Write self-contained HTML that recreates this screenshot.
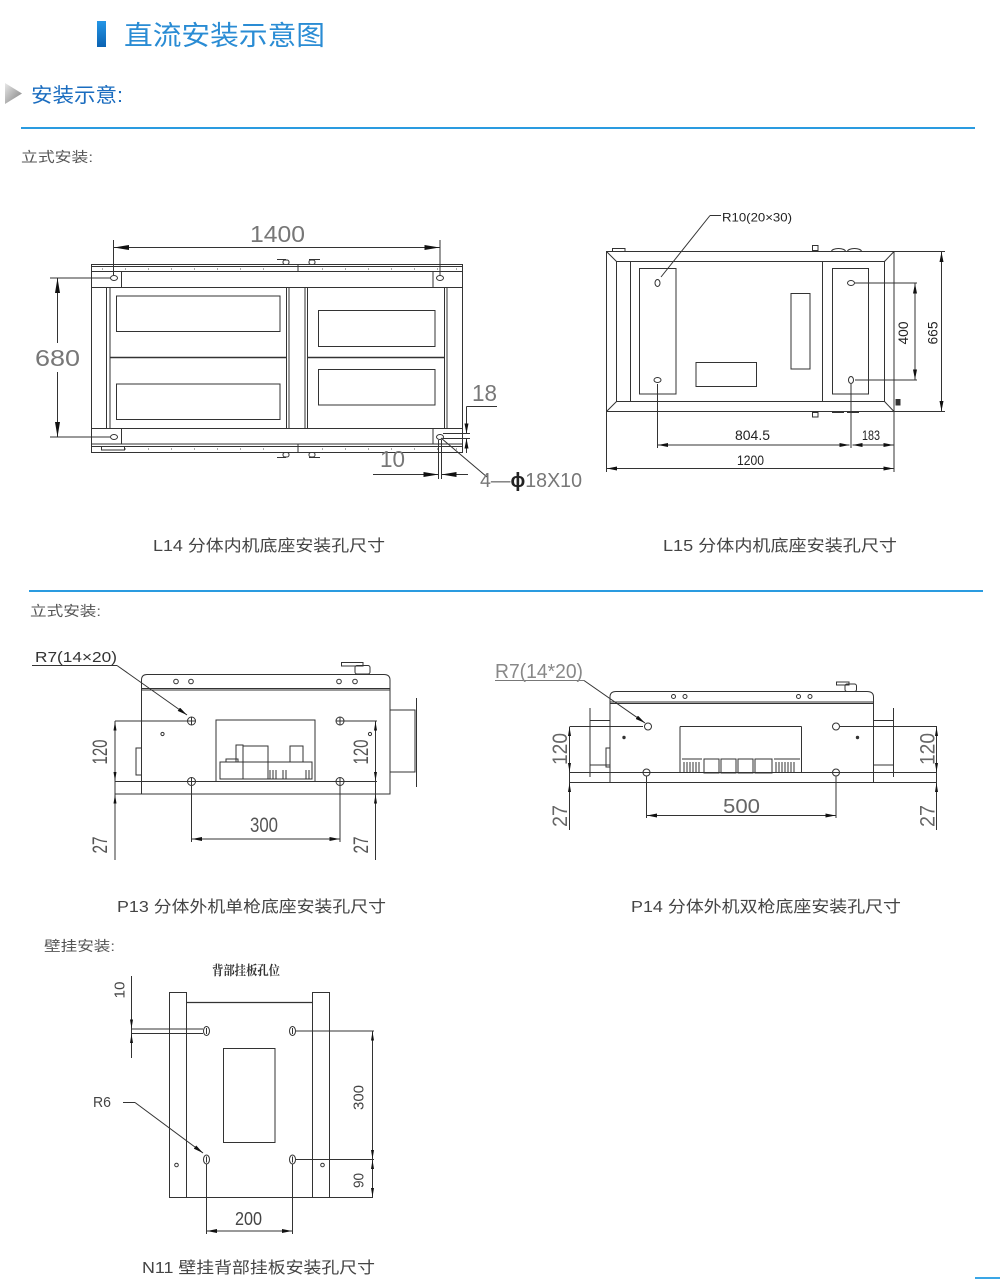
<!DOCTYPE html>
<html><head><meta charset="utf-8"><style>
html,body{margin:0;padding:0;background:#fff;}
svg{display:block;}
.t{font-family:"Liberation Sans","Noto Sans CJK SC",sans-serif;}
.d{font-family:"Liberation Sans Narrow","Liberation Sans",sans-serif;}
</style></head><body>
<svg width="1000" height="1279" viewBox="0 0 1000 1279" xmlns="http://www.w3.org/2000/svg">
<defs>
<linearGradient id="bb" x1="0" y1="0" x2="0" y2="1"><stop offset="0" stop-color="#2596e6"/><stop offset="1" stop-color="#0b62b2"/></linearGradient>
<linearGradient id="tri" x1="0" y1="0" x2="1" y2="1"><stop offset="0" stop-color="#e8e8e8"/><stop offset="1" stop-color="#7d7d7d"/></linearGradient>
<marker id="aL" viewBox="0 0 15 5" refX="15" refY="2.5" markerWidth="15" markerHeight="5" markerUnits="userSpaceOnUse" orient="auto-start-reverse"><path d="M0,0L15,2.5L0,5z" fill="#111"/></marker>
<marker id="a" viewBox="0 0 10 4" refX="10" refY="2" markerWidth="10" markerHeight="4" markerUnits="userSpaceOnUse" orient="auto-start-reverse"><path d="M0,0L10,2L0,4z" fill="#111"/></marker>
<marker id="as" viewBox="0 0 9 3" refX="9" refY="1.5" markerWidth="9" markerHeight="3" markerUnits="userSpaceOnUse" orient="auto-start-reverse"><path d="M0,0L9,1.5L0,3z" fill="#111"/></marker>
</defs>
<rect width="1000" height="1279" fill="#fff"/>

<!-- Header -->
<rect x="97" y="21" width="9" height="26" fill="url(#bb)"/>
<text class="t" x="124" y="45" font-size="27" fill="#2a8cd4" textLength="201" lengthAdjust="spacingAndGlyphs">直流安装示意图</text>
<polygon points="5,83 22,93.5 5,104" fill="url(#tri)"/>
<text class="t" x="31" y="102" font-size="20" fill="#1a6cbf" textLength="92" lengthAdjust="spacingAndGlyphs">安装示意:</text>
<rect x="21" y="127" width="954" height="2" fill="#2a9be0"/>
<text class="t" x="21" y="162" font-size="14" fill="#555" textLength="72" lengthAdjust="spacingAndGlyphs">立式安装:</text>

<!-- L14 drawing -->
<g fill="none" stroke="#333" stroke-width="1">
 <rect x="91.5" y="264.5" width="371" height="188"/>
 <line x1="91.5" y1="266.5" x2="462.5" y2="266.5"/>
 <line x1="91.5" y1="271.5" x2="462.5" y2="271.5"/>
 <line x1="298" y1="264.5" x2="298" y2="271.5"/>
 <line x1="91.5" y1="287.5" x2="462.5" y2="287.5"/>
 <line x1="121.5" y1="271.5" x2="121.5" y2="287.5"/>
 <line x1="433" y1="271.5" x2="433" y2="287.5"/>
 <line x1="91.5" y1="428.5" x2="462.5" y2="428.5"/>
 <line x1="121.5" y1="428.5" x2="121.5" y2="444"/>
 <line x1="433" y1="428.5" x2="433" y2="444"/>
 <line x1="91.5" y1="444" x2="462.5" y2="444"/>
 <line x1="91.5" y1="446.5" x2="462.5" y2="446.5"/>
 <line x1="298" y1="444" x2="298" y2="452.5"/>
 <rect x="101.5" y="446.5" width="23" height="3.5"/>
 <line x1="106.5" y1="287.5" x2="106.5" y2="428.5"/>
 <line x1="110" y1="287.5" x2="110" y2="428.5"/>
 <line x1="444.5" y1="287.5" x2="444.5" y2="428.5"/>
 <line x1="447" y1="287.5" x2="447" y2="428.5"/>
 <line x1="286.5" y1="287.5" x2="286.5" y2="428.5"/>
 <line x1="289" y1="287.5" x2="289" y2="428.5"/>
 <line x1="305" y1="287.5" x2="305" y2="428.5"/>
 <line x1="307.5" y1="287.5" x2="307.5" y2="428.5"/>
 <line x1="110" y1="357.5" x2="286.5" y2="357.5" stroke-width="1.5"/>
 <line x1="307.5" y1="357.5" x2="444.5" y2="357.5" stroke-width="1.5"/>
 <rect x="116.5" y="296" width="163.5" height="35.5"/>
 <rect x="116.5" y="384" width="163.5" height="35.5"/>
 <rect x="318.5" y="310.5" width="116.5" height="36"/>
 <rect x="318.5" y="369.5" width="116.5" height="35.5"/>
 <path d="M277,259.5H286"/><rect x="283" y="260" width="6" height="4.5" rx="2"/>
 <path d="M309,259.5H320"/><rect x="309" y="260" width="6" height="4.5" rx="2"/>
 <path d="M277,457.5H286"/><rect x="283" y="452.5" width="6" height="4.5" rx="2"/>
 <path d="M309,457.5H320"/><rect x="309" y="452.5" width="6" height="4.5" rx="2"/>
 <ellipse cx="114" cy="278" rx="3.5" ry="2.5"/>
 <ellipse cx="440" cy="278" rx="3.5" ry="2.5"/>
 <ellipse cx="114" cy="437" rx="3.5" ry="2.5"/>
 <ellipse cx="440" cy="437" rx="3.5" ry="2.5"/>
</g>
<g fill="#555">
 <path d="M102,268.5h1v1h-1zM125,268.5h1v1h-1zM148,268.5h1v1h-1zM171,268.5h1v1h-1zM194,268.5h1v1h-1zM217,268.5h1v1h-1zM240,268.5h1v1h-1zM263,268.5h1v1h-1zM322,268.5h1v1h-1zM345,268.5h1v1h-1zM368,268.5h1v1h-1zM391,268.5h1v1h-1zM414,268.5h1v1h-1zM437,268.5h1v1h-1zM456,268.5h1v1h-1z"/>
 <path d="M125,448.5h1v1h-1zM148,448.5h1v1h-1zM171,448.5h1v1h-1zM194,448.5h1v1h-1zM217,448.5h1v1h-1zM240,448.5h1v1h-1zM263,448.5h1v1h-1zM322,448.5h1v1h-1zM345,448.5h1v1h-1zM368,448.5h1v1h-1zM391,448.5h1v1h-1zM414,448.5h1v1h-1zM437,448.5h1v1h-1zM456,448.5h1v1h-1z"/>
</g>
<g stroke="#333" stroke-width="1" fill="none">
 <line x1="113.5" y1="240" x2="113.5" y2="275"/>
 <line x1="440" y1="240" x2="440" y2="275"/>
 <line x1="114" y1="247.5" x2="439.5" y2="247.5" marker-start="url(#aL)" marker-end="url(#aL)"/>
 <line x1="50" y1="278" x2="110" y2="278"/>
 <line x1="50" y1="437" x2="110" y2="437"/>
 <line x1="57.5" y1="343" x2="57.5" y2="278" marker-end="url(#aL)"/>
 <line x1="57.5" y1="372" x2="57.5" y2="437" marker-end="url(#aL)"/>
 <line x1="443" y1="433.5" x2="470" y2="433.5"/>
 <line x1="443" y1="438.5" x2="470" y2="438.5"/>
 <line x1="466.5" y1="406.5" x2="497" y2="406.5"/>
 <line x1="466.5" y1="406.5" x2="466.5" y2="433.5" marker-end="url(#a)"/>
 <line x1="466.5" y1="453" x2="466.5" y2="438.5" marker-end="url(#a)"/>
 <line x1="438.5" y1="440" x2="438.5" y2="479"/>
 <line x1="441.5" y1="440" x2="441.5" y2="479"/>
 <line x1="373" y1="474.5" x2="438.5" y2="474.5" marker-end="url(#aL)"/>
 <line x1="468" y1="474.5" x2="441.5" y2="474.5" marker-end="url(#aL)"/>
 <line x1="441" y1="438" x2="487" y2="477"/>
</g>
<g class="d" fill="#777" font-size="23">
 <text x="250" y="242" textLength="55" lengthAdjust="spacingAndGlyphs">1400</text>
 <text x="35" y="366" textLength="45" lengthAdjust="spacingAndGlyphs">680</text>
 <text x="472" y="401" textLength="25" lengthAdjust="spacingAndGlyphs">18</text>
 <text x="380" y="467" textLength="25" lengthAdjust="spacingAndGlyphs">10</text>
 <text x="480" y="487" font-size="20" textLength="102" lengthAdjust="spacingAndGlyphs">4—<tspan font-weight="bold" fill="#222">ϕ</tspan>18X10</text>
</g>

<!-- L15 drawing -->
<g fill="none" stroke="#333" stroke-width="1">
 <rect x="606.5" y="251.5" width="287.5" height="160"/>
 <rect x="616.5" y="261.5" width="268" height="140"/>
 <line x1="606.5" y1="251.5" x2="616.5" y2="261.5"/>
 <line x1="894" y1="251.5" x2="884.5" y2="261.5"/>
 <line x1="606.5" y1="411.5" x2="616.5" y2="401.5"/>
 <line x1="894" y1="411.5" x2="884.5" y2="401.5"/>
 <line x1="630.5" y1="261.5" x2="630.5" y2="401.5"/>
 <line x1="822.5" y1="261.5" x2="822.5" y2="401.5"/>
 <rect x="639.5" y="268.5" width="36.5" height="125.5"/>
 <rect x="832.5" y="268.5" width="36" height="125.5"/>
 <rect x="696" y="362.5" width="60.5" height="24"/>
 <rect x="791" y="293.5" width="19" height="75.5"/>
 <rect x="612.5" y="248.5" width="12.5" height="3"/>
 <rect x="812.5" y="245.5" width="5.5" height="5"/>
 <path d="M831.5,251.5a7,3 0 0 1 14,0M847.5,251.5a7,3 0 0 1 14,0"/>
 <rect x="812.5" y="412.5" width="5.5" height="4.5"/>
 <path d="M832,412.5h12M847,412.5h12"/>
 <rect x="896" y="399.5" width="4" height="5.5" fill="#333"/>
 <ellipse cx="657.5" cy="283" rx="2.5" ry="3.5"/>
 <ellipse cx="657.5" cy="380" rx="3.5" ry="2.5"/>
 <ellipse cx="851" cy="283" rx="3.5" ry="2.5"/>
 <ellipse cx="851" cy="380" rx="2.5" ry="3.5"/>
 <line x1="606.5" y1="411.5" x2="606.5" y2="472"/>
 <line x1="894" y1="411.5" x2="894" y2="472"/>
 <line x1="607" y1="468.5" x2="893.5" y2="468.5" marker-start="url(#a)" marker-end="url(#a)"/>
 <line x1="657.5" y1="384" x2="657.5" y2="448"/>
 <line x1="851" y1="384" x2="851" y2="448"/>
 <line x1="658" y1="445" x2="849.5" y2="445" marker-start="url(#a)" marker-end="url(#a)"/>
 <line x1="852.5" y1="445" x2="893.5" y2="445" marker-start="url(#a)" marker-end="url(#a)"/>
 <line x1="855" y1="283" x2="917" y2="283"/>
 <line x1="855" y1="380" x2="917" y2="380"/>
 <line x1="915" y1="283.5" x2="915" y2="379.5" marker-start="url(#a)" marker-end="url(#a)"/>
 <line x1="894" y1="251.5" x2="945" y2="251.5"/>
 <line x1="894" y1="411.5" x2="945" y2="411.5"/>
 <line x1="941.5" y1="252" x2="941.5" y2="411" marker-start="url(#a)" marker-end="url(#a)"/>
 <line x1="710" y1="215.5" x2="721" y2="215.5"/>
 <line x1="710" y1="215.5" x2="661" y2="277"/>
</g>
<g class="d" fill="#222" font-size="14">
 <text x="722" y="221.5" font-size="12" textLength="70" lengthAdjust="spacingAndGlyphs">R10(20×30)</text>
 <text x="735" y="440" textLength="35" lengthAdjust="spacingAndGlyphs">804.5</text>
 <text x="862" y="440" textLength="18" lengthAdjust="spacingAndGlyphs">183</text>
 <text x="737" y="465" textLength="27" lengthAdjust="spacingAndGlyphs">1200</text>
 <text transform="translate(903,333) rotate(-90)" text-anchor="middle" dominant-baseline="central" textLength="23" lengthAdjust="spacingAndGlyphs">400</text>
 <text transform="translate(932.5,333) rotate(-90)" text-anchor="middle" dominant-baseline="central" textLength="23" lengthAdjust="spacingAndGlyphs">665</text>
</g>

<g class="t" fill="#444" font-size="16">
 <text x="153" y="551" textLength="232" lengthAdjust="spacingAndGlyphs">L14 分体内机底座安装孔尺寸</text>
 <text x="663" y="551" textLength="234" lengthAdjust="spacingAndGlyphs">L15 分体内机底座安装孔尺寸</text>
</g>
<rect x="29" y="590" width="954" height="2" fill="#2a9be0"/>
<text class="t" x="30" y="616" font-size="14" fill="#555" textLength="71" lengthAdjust="spacingAndGlyphs">立式安装:</text>

<!-- P13 drawing -->
<g fill="none" stroke="#333" stroke-width="1">
 <path d="M141.5,690V680Q141.5,674.5 147,674.5H384Q390,674.5 390,680V690"/>
 <line x1="141.5" y1="688.5" x2="390" y2="688.5"/>
 <circle cx="176" cy="681.5" r="2.3"/><circle cx="191" cy="681.5" r="2.3"/>
 <circle cx="339" cy="681.5" r="2.3"/><circle cx="355" cy="681.5" r="2.3"/>
 <path d="M341.5,662.5H363V666H341.5z"/>
 <rect x="355" y="665.5" width="15" height="8.5" rx="2"/>
 <rect x="141.5" y="690" width="248.5" height="104"/>
 <line x1="115" y1="794" x2="141.5" y2="794"/>
 <line x1="115" y1="721" x2="188" y2="721"/>
 <line x1="344" y1="721" x2="377" y2="721"/>
 <line x1="115" y1="781.5" x2="377" y2="781.5"/>
 <rect x="136" y="748" width="5.5" height="27"/>
 <path d="M216,782V720H315V782"/>
 <rect x="220" y="762" width="92" height="17"/>
 <rect x="243" y="746" width="25" height="33"/>
 <rect x="290" y="746" width="13" height="16"/>
 <rect x="236" y="745" width="7" height="17"/>
 <path d="M226,762v-3h12v3M270,770v9M273,770v9M276,770v9M283,770v9M286,770v9M306,770v9M309,770v9"/>
 <rect x="390" y="710" width="25" height="62"/>
 <line x1="416.5" y1="698" x2="416.5" y2="787"/>
 <circle cx="191.5" cy="721" r="4"/><path d="M187.5,721h8M191.5,717v8"/>
 <circle cx="340" cy="721" r="4"/><path d="M336,721h8M340,717v8"/>
 <circle cx="191.5" cy="781.5" r="4"/><path d="M187.5,781.5h8M191.5,777.5v8"/>
 <circle cx="340" cy="781.5" r="4"/><path d="M336,781.5h8M340,777.5v8"/>
 <circle cx="162.5" cy="734" r="1.6"/>
 <circle cx="370" cy="734" r="1.6"/>
 <line x1="115" y1="721" x2="115" y2="860"/>
 <line x1="375.5" y1="721" x2="375.5" y2="860"/>
 <line x1="115" y1="732" x2="115" y2="721.5" marker-end="url(#as)"/>
 <line x1="115" y1="770" x2="115" y2="781" marker-end="url(#as)"/>
 <line x1="115" y1="805" x2="115" y2="794.5" marker-end="url(#as)"/>
 <line x1="375.5" y1="732" x2="375.5" y2="721.5" marker-end="url(#as)"/>
 <line x1="375.5" y1="770" x2="375.5" y2="781" marker-end="url(#as)"/>
 <line x1="375.5" y1="805" x2="375.5" y2="794.5" marker-end="url(#as)"/>
 <line x1="191.5" y1="786" x2="191.5" y2="842"/>
 <line x1="340" y1="786" x2="340" y2="842"/>
 <line x1="192" y1="839" x2="339.5" y2="839" marker-start="url(#a)" marker-end="url(#a)"/>
 <line x1="32" y1="665.5" x2="117" y2="665.5"/>
 <line x1="117" y1="665.5" x2="187" y2="715" marker-end="url(#a)"/>
</g>
<g class="d" fill="#555" font-size="21">
 <text x="35" y="662" font-size="15" fill="#333" textLength="82" lengthAdjust="spacingAndGlyphs">R7(14×20)</text>
 <text x="250" y="832" textLength="28" lengthAdjust="spacingAndGlyphs">300</text>
 <text transform="translate(100.5,752) rotate(-90)" text-anchor="middle" dominant-baseline="central" textLength="25" lengthAdjust="spacingAndGlyphs">120</text>
 <text transform="translate(100.5,845) rotate(-90)" text-anchor="middle" dominant-baseline="central" textLength="17" lengthAdjust="spacingAndGlyphs">27</text>
 <text transform="translate(361.5,752) rotate(-90)" text-anchor="middle" dominant-baseline="central" textLength="25" lengthAdjust="spacingAndGlyphs">120</text>
 <text transform="translate(361.5,845) rotate(-90)" text-anchor="middle" dominant-baseline="central" textLength="17" lengthAdjust="spacingAndGlyphs">27</text>
</g>

<!-- P14 drawing -->
<g fill="none" stroke="#333" stroke-width="1">
 <path d="M610,703.5V697Q610,691.5 616,691.5H867Q873.5,691.5 873.5,697V703.5"/>
 <line x1="610" y1="702" x2="873.5" y2="702"/>
 <circle cx="673.5" cy="696.5" r="2"/><circle cx="685" cy="696.5" r="2"/>
 <circle cx="798.5" cy="696.5" r="2"/><circle cx="810" cy="696.5" r="2"/>
 <path d="M836.5,682H849V685H836.5z"/>
 <rect x="845" y="684" width="11.5" height="7.5" rx="2"/>
 <rect x="610" y="703.5" width="263.5" height="79"/>
 <path d="M590,708V777M590,720.5H610M590,765H610"/>
 <path d="M893.5,708V777M873.5,720.5H893.5M873.5,765H893.5"/>
 <rect x="606" y="748" width="4" height="19"/>
 <line x1="570" y1="726.5" x2="643" y2="726.5"/>
 <line x1="680" y1="726.5" x2="801.5" y2="726.5"/>
 <line x1="840" y1="726.5" x2="937" y2="726.5"/>
 <line x1="570" y1="772.5" x2="937" y2="772.5"/>
 <line x1="570" y1="782.5" x2="937" y2="782.5"/>
 <path d="M680,773V726.5M801.5,773V726.5"/>
 <rect x="704" y="759" width="15" height="14"/>
 <rect x="721" y="759" width="15" height="14"/>
 <rect x="738" y="759" width="15" height="14"/>
 <rect x="755" y="759" width="17" height="14"/>
 <path d="M682,759h20M774,759h26M684,762v10M687,762v10M690,762v10M693,762v10M696,762v10M699,762v10M776,762v10M779,762v10M782,762v10M785,762v10M788,762v10M791,762v10M794,762v10"/>
 <circle cx="648" cy="726.5" r="3.5"/>
 <circle cx="836" cy="726.5" r="3.5"/>
 <circle cx="646.5" cy="772.5" r="3.5"/>
 <circle cx="836" cy="772.5" r="3.5"/>
 <circle cx="624" cy="737.5" r="1.2" fill="#333"/>
 <circle cx="857.5" cy="737.5" r="1.2" fill="#333"/>
 <line x1="569.5" y1="726.5" x2="569.5" y2="830"/>
 <line x1="936.5" y1="726.5" x2="936.5" y2="830"/>
 <line x1="569.5" y1="738" x2="569.5" y2="727" marker-end="url(#as)"/>
 <line x1="569.5" y1="761" x2="569.5" y2="772" marker-end="url(#as)"/>
 <line x1="569.5" y1="795" x2="569.5" y2="783" marker-end="url(#as)"/>
 <line x1="936.5" y1="738" x2="936.5" y2="727" marker-end="url(#as)"/>
 <line x1="936.5" y1="761" x2="936.5" y2="772" marker-end="url(#as)"/>
 <line x1="936.5" y1="795" x2="936.5" y2="783" marker-end="url(#as)"/>
 <line x1="646.5" y1="776.5" x2="646.5" y2="818"/>
 <line x1="836" y1="776.5" x2="836" y2="818"/>
 <line x1="647" y1="815.5" x2="835.5" y2="815.5" marker-start="url(#a)" marker-end="url(#a)"/>
 <line x1="495" y1="680.5" x2="584" y2="680.5" stroke="#777"/>
 <line x1="584" y1="680.5" x2="645" y2="723" marker-end="url(#a)"/>
</g>
<g class="d" fill="#666" font-size="21">
 <text x="495" y="678" font-size="20" fill="#888" textLength="88" lengthAdjust="spacingAndGlyphs">R7(14*20)</text>
 <text x="723" y="813" font-size="20" textLength="37" lengthAdjust="spacingAndGlyphs">500</text>
 <text transform="translate(560.5,749) rotate(-90)" text-anchor="middle" dominant-baseline="central" textLength="32" lengthAdjust="spacingAndGlyphs">120</text>
 <text transform="translate(560.5,816) rotate(-90)" text-anchor="middle" dominant-baseline="central" textLength="22" lengthAdjust="spacingAndGlyphs">27</text>
 <text transform="translate(928,749) rotate(-90)" text-anchor="middle" dominant-baseline="central" textLength="32" lengthAdjust="spacingAndGlyphs">120</text>
 <text transform="translate(928,816) rotate(-90)" text-anchor="middle" dominant-baseline="central" textLength="22" lengthAdjust="spacingAndGlyphs">27</text>
</g>

<g class="t" fill="#444" font-size="16">
 <text x="117" y="912" textLength="269" lengthAdjust="spacingAndGlyphs">P13 分体外机单枪底座安装孔尺寸</text>
 <text x="631" y="912" textLength="270" lengthAdjust="spacingAndGlyphs">P14 分体外机双枪底座安装孔尺寸</text>
</g>
<text class="t" x="44" y="951" font-size="14" fill="#555" textLength="71" lengthAdjust="spacingAndGlyphs">壁挂安装:</text>

<!-- N11 drawing -->
<text x="246" y="975" text-anchor="middle" font-family="'Noto Serif CJK SC','Noto Sans CJK SC',serif" font-weight="bold" font-size="13" fill="#333" textLength="68" lengthAdjust="spacingAndGlyphs">背部挂板孔位</text>
<g fill="none" stroke="#333" stroke-width="1">
 <rect x="169.5" y="992.5" width="17" height="205"/>
 <rect x="312.5" y="992.5" width="17" height="205"/>
 <line x1="186.5" y1="1002.5" x2="312.5" y2="1002.5" stroke-width="1.3"/>
 <line x1="186.5" y1="1197.5" x2="373" y2="1197.5"/>
 <rect x="223.5" y="1048.5" width="51.5" height="94"/>
 <ellipse cx="206.5" cy="1031" rx="3" ry="4.5"/><line x1="206.5" y1="1028" x2="206.5" y2="1034"/>
 <ellipse cx="292.5" cy="1031" rx="3" ry="4.5"/><line x1="292.5" y1="1028" x2="292.5" y2="1034"/>
 <ellipse cx="206.5" cy="1159.5" rx="3" ry="4.5"/><line x1="206.5" y1="1156.5" x2="206.5" y2="1162.5"/>
 <ellipse cx="292.5" cy="1159.5" rx="3" ry="4.5"/><line x1="292.5" y1="1156.5" x2="292.5" y2="1162.5"/>
 <circle cx="176.5" cy="1165" r="1.8"/>
 <circle cx="322.5" cy="1165" r="1.8"/>
 <line x1="131.5" y1="976" x2="131.5" y2="1058"/>
 <line x1="131.5" y1="1029" x2="203" y2="1029"/>
 <line x1="131.5" y1="1033.5" x2="203" y2="1033.5"/>
 <line x1="131.5" y1="1017" x2="131.5" y2="1028.5" marker-end="url(#as)"/>
 <line x1="131.5" y1="1046" x2="131.5" y2="1034" marker-end="url(#as)"/>
 <line x1="296" y1="1031" x2="374" y2="1031"/>
 <line x1="296" y1="1159.5" x2="374" y2="1159.5"/>
 <line x1="372.5" y1="1031" x2="372.5" y2="1197.5"/>
 <line x1="372.5" y1="1045" x2="372.5" y2="1031.5" marker-end="url(#as)"/>
 <line x1="372.5" y1="1146" x2="372.5" y2="1159" marker-end="url(#as)"/>
 <line x1="372.5" y1="1172" x2="372.5" y2="1160" marker-end="url(#as)"/>
 <line x1="372.5" y1="1185" x2="372.5" y2="1197" marker-end="url(#as)"/>
 <line x1="206.5" y1="1164" x2="206.5" y2="1234"/>
 <line x1="292.5" y1="1164" x2="292.5" y2="1234"/>
 <line x1="207" y1="1231" x2="292" y2="1231" marker-start="url(#a)" marker-end="url(#a)"/>
 <line x1="123" y1="1102.5" x2="135" y2="1102.5"/>
 <line x1="135" y1="1102.5" x2="203" y2="1153" marker-end="url(#a)"/>
</g>
<g class="d" fill="#444" font-size="15">
 <text x="93" y="1107" font-size="15" textLength="18" lengthAdjust="spacingAndGlyphs">R6</text>
 <text x="235" y="1225" font-size="18" textLength="27" lengthAdjust="spacingAndGlyphs">200</text>
 <text transform="translate(120,990) rotate(-90)" text-anchor="middle" dominant-baseline="central" textLength="17" lengthAdjust="spacingAndGlyphs">10</text>
 <text transform="translate(359,1097.5) rotate(-90)" text-anchor="middle" dominant-baseline="central" textLength="25" lengthAdjust="spacingAndGlyphs">300</text>
 <text transform="translate(359,1180.5) rotate(-90)" text-anchor="middle" dominant-baseline="central" textLength="15" lengthAdjust="spacingAndGlyphs">90</text>
</g>
<text class="t" x="142" y="1273" font-size="16" fill="#444" textLength="233" lengthAdjust="spacingAndGlyphs">N11 壁挂背部挂板安装孔尺寸</text>
<rect x="975" y="1277" width="25" height="2" fill="#3aa6e6"/>
</svg>
</body></html>
